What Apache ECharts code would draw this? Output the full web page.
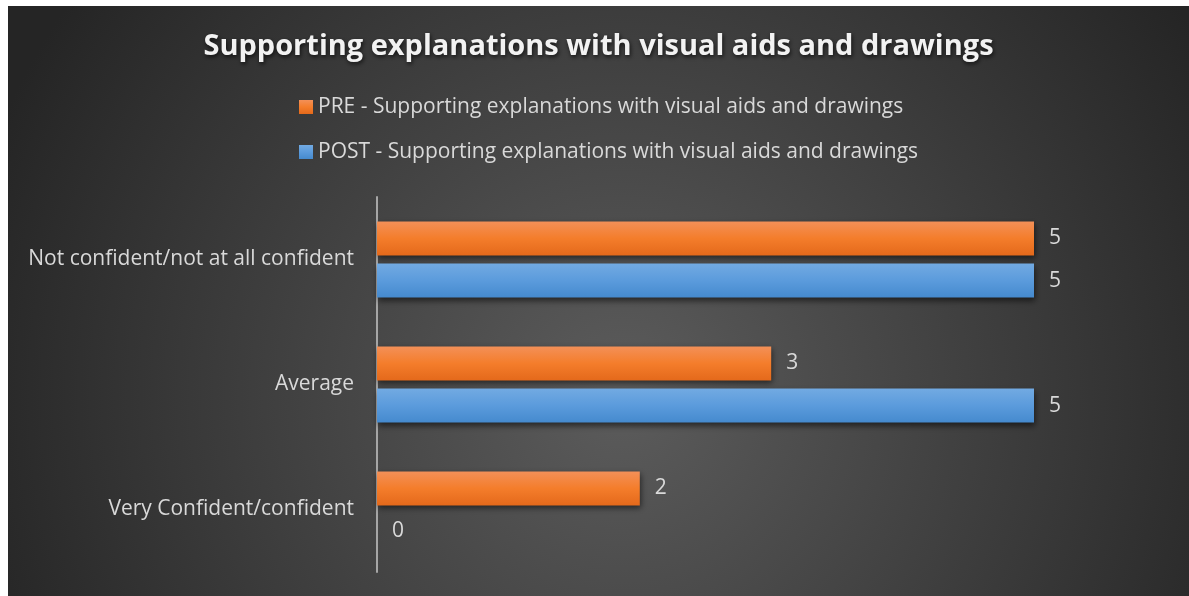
<!DOCTYPE html>
<html>
<head>
<meta charset="utf-8">
<script src="https://cdn.jsdelivr.net/npm/echarts@6/dist/echarts.min.js"></script>
<style>
  html, body { margin: 0; padding: 0; background: #ffffff; }
  #chart { position: absolute; left: 8px; top: 6px; width: 1181px; height: 590px; }
</style>
</head>
<body>
<div id="chart"></div>
<script>
// Confidence levels (top to bottom) and response counts
const categories = ['Not confident/not at all confident', 'Average', 'Very Confident/confident'];
const preValues = [5, 3, 2];
const postValues = [5, 5, 0];
const seriesNames = [
  'PRE - Supporting explanations with visual aids and drawings',
  'POST - Supporting explanations with visual aids and drawings'
];
const chartTitle = 'Supporting explanations with visual aids and drawings';

const FONT = '"Open Sans", "DejaVu Sans", sans-serif';
const TEXT = '#d9d9d9';

function vGrad(top, mid, bottom) {
  return new echarts.graphic.LinearGradient(0, 0, 0, 1, [
    { offset: 0, color: top },
    { offset: 0.5, color: mid },
    { offset: 1, color: bottom }
  ]);
}

const chart = echarts.init(document.getElementById('chart'));
chart.setOption({
  backgroundColor: {
    type: 'radial', x: 0.52, y: 0.66, r: 1.15,
    colorStops: [
      { offset: 0, color: '#5c5c5c' },
      { offset: 1, color: '#252525' }
    ]
  },
  title: {
    text: chartTitle,
    left: 'center',
    top: 21,
    textStyle: {
      fontFamily: FONT, fontSize: 29, fontWeight: 'bold', color: '#f2f2f2',
      textShadowColor: 'rgba(0,0,0,0.7)', textShadowBlur: 4, textShadowOffsetX: 1, textShadowOffsetY: 2
    }
  },
  legend: {
    orient: 'vertical',
    left: 286,
    top: 84,
    icon: 'rect',
    itemWidth: 14,
    itemHeight: 14,
    itemGap: 21,
    textStyle: { fontFamily: FONT, fontSize: 21, color: TEXT, lineHeight: 24 },
    data: seriesNames
  },
  grid: { left: 369, right: 155, top: 191, height: 375, containLabel: false },
  xAxis: {
    type: 'value', min: 0, max: 5,
    axisLine: { show: false }, axisTick: { show: false },
    axisLabel: { show: false }, splitLine: { show: false }
  },
  yAxis: {
    type: 'category',
    data: categories,
    inverse: true,
    axisLine: { show: true, lineStyle: { color: '#a6a6a6', width: 2 } },
    axisTick: { show: false },
    axisLabel: { fontFamily: FONT, fontSize: 21, color: TEXT, margin: 23, padding: [4, 0, 0, 0] }
  },
  series: [
    {
      name: seriesNames[0], type: 'bar', data: preValues,
      barWidth: 34, barGap: '24%',
      itemStyle: {
        color: vGrad('#f39058', '#f47d2b', '#e4691b'),
        shadowColor: 'rgba(0,0,0,0.55)', shadowBlur: 6, shadowOffsetY: 3, shadowOffsetX: 1
      },
      label: { show: true, position: 'right', distance: 15, fontFamily: FONT, fontSize: 21, color: TEXT, padding: [3, 0, 0, 0] }
    },
    {
      name: seriesNames[1], type: 'bar', data: postValues,
      barWidth: 34, barGap: '24%',
      itemStyle: {
        color: vGrad('#72aae2', '#5b9bdc', '#458ace'),
        shadowColor: 'rgba(0,0,0,0.55)', shadowBlur: 6, shadowOffsetY: 3, shadowOffsetX: 1
      },
      label: { show: true, position: 'right', distance: 15, fontFamily: FONT, fontSize: 21, color: TEXT, padding: [3, 0, 0, 0] }
    }
  ]
});
</script>
</body>
</html>
